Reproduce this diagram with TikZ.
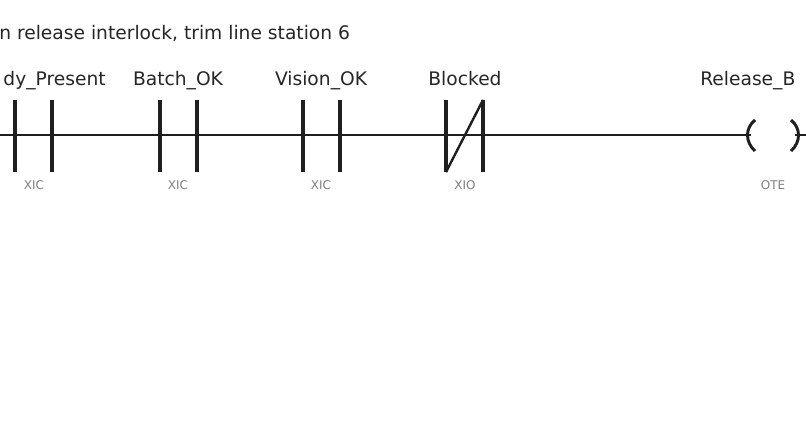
\documentclass[tikz,border=0pt]{standalone}
\usepackage{fontspec}
\setmainfont{DejaVu Sans}
\begin{document}
\begin{tikzpicture}[x=0.75pt,y=-0.75pt,
  wire/.style={line width=2.2pt,draw=black!88},
  bar/.style={line width=2.6pt,draw=black!88},
  tag/.style={font=\fontsize{14}{16}\selectfont,text=black!85,inner sep=0},
  kind/.style={font=\fontsize{9}{11}\selectfont,text=black!50,inner sep=0}]
\useasboundingbox (0,0) rectangle (806,440);
\clip (0,0) rectangle (806,440);
\fill[white] (0,0) rectangle (806,440);
\node[tag,anchor=base west] (title) at (-1,39) {n release interlock, trim line station 6};
\coordinate (L) at (-5,135);
\coordinate (R) at (810,135);
\draw[wire] (L) -- (R);
% contacts
\foreach \n/\x in {c1/15,c2/160,c3/303,c4/446}{
  \coordinate (\n a) at (\x,100); \coordinate (\n b) at (\x,172);
  \coordinate (\n c) at (\x+37,100); \coordinate (\n d) at (\x+37,172);
  \draw[bar] (\n a) -- (\n b); \draw[bar] (\n c) -- (\n d);
}
\draw[line width=1.8pt,black!88] (c4b) -- (c4c);
\node[tag,anchor=base east] (t1) at (106,85) {dy\_Present};
\node[tag,anchor=base] (t2) at (178,85) {Batch\_OK};
\node[tag,anchor=base] (t3) at (321,85) {Vision\_OK};
\node[tag,anchor=base] (t4) at (465,85) {Blocked};
\node[tag,anchor=base west] (t5) at (700,85) {Release\_B};
\node[kind] (k1) at (34,185) {XIC};
\node[kind] (k2) at (178,185) {XIC};
\node[kind] (k3) at (321,185) {XIC};
\node[kind] (k4) at (465,185) {XIO};
\node[kind] (k5) at (773,185) {OTE};
% coil
\fill[white] (751,118) rectangle (795,152);
\draw[line width=2.2pt,black!88] (755,120) .. controls (745,128) and (745,142) .. (755,151);
\draw[line width=2.2pt,black!88] (791,120) .. controls (801,128) and (801,142) .. (791,151);
\end{tikzpicture}
\end{document}
